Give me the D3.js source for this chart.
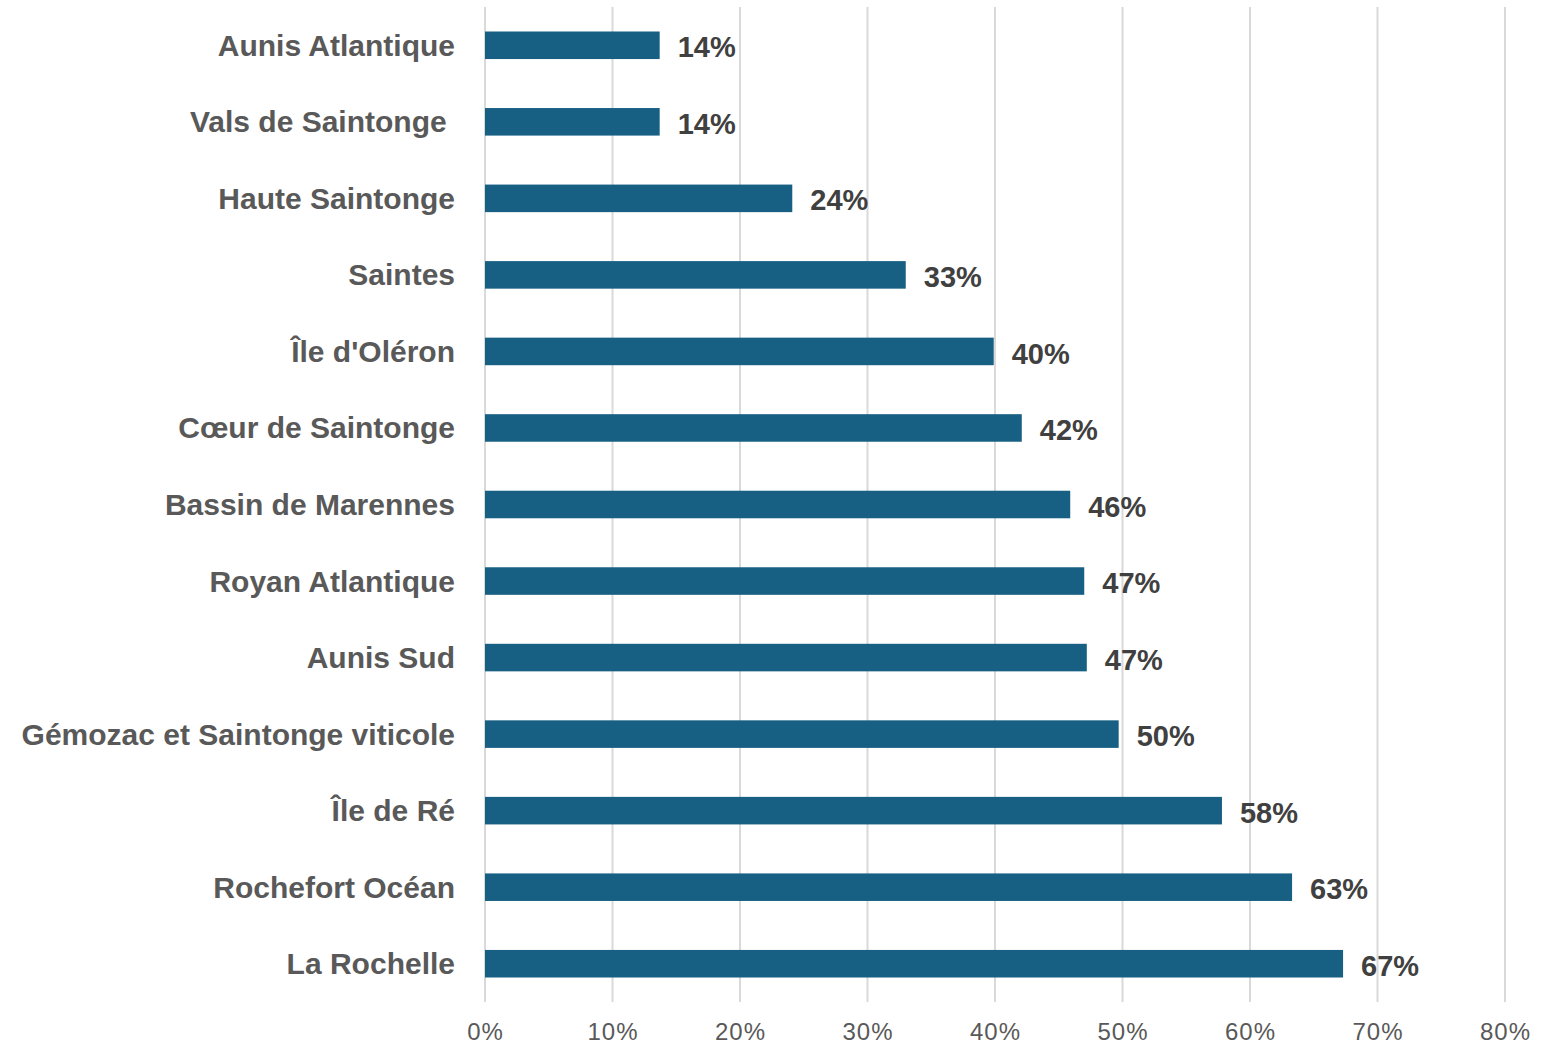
<!DOCTYPE html>
<html>
<head>
<meta charset="utf-8">
<script src="https://cdn.jsdelivr.net/npm/d3@7"></script>
<style>
  body { margin: 0; background: #fff; }
</style>
</head>
<body>
<div id="chart"></div>
<script>
var categories = ["Aunis Atlantique", "Vals de Saintonge ", "Haute Saintonge", "Saintes",
  "Île d'Oléron", "Cœur de Saintonge", "Bassin de Marennes", "Royan Atlantique",
  "Aunis Sud", "Gémozac et Saintonge viticole", "Île de Ré", "Rochefort Océan", "La Rochelle"];
var values = [0.137, 0.137, 0.241, 0.330, 0.399, 0.421, 0.459, 0.470,
  0.472, 0.497, 0.578, 0.633, 0.673];
var valueLabels = ["14%", "14%", "24%", "33%", "40%", "42%", "46%", "47%",
  "47%", "50%", "58%", "63%", "67%"];
var tickValues = [0, 0.1, 0.2, 0.3, 0.4, 0.5, 0.6, 0.7, 0.8];

var margin = {top: 7, right: 52, bottom: 44, left: 485},
    width = 1557 - margin.left - margin.right,
    height = 1046 - margin.top - margin.bottom;

var svg = d3.select("#chart")
  .append("svg")
    .attr("width", 1557)
    .attr("height", 1046)
  .append("g")
    .attr("transform", "translate(" + margin.left + "," + margin.top + ")");

var x = d3.scaleLinear()
  .domain([0, 0.8])
  .range([0, width]);

var y = d3.scaleBand()
  .domain(categories)
  .range([0, height])
  .paddingInner(0.64)
  .paddingOuter(0.32);

// gridlines
svg.selectAll("line.grid")
  .data(tickValues)
  .enter()
  .append("line")
    .attr("class", "grid")
    .attr("x1", function(d) { return x(d); })
    .attr("x2", function(d) { return x(d); })
    .attr("y1", 0)
    .attr("y2", height)
    .attr("stroke", "#d9d9d9")
    .attr("stroke-width", 2);

var xAxis = svg.append("g")
  .attr("transform", "translate(0," + height + ")")
  .call(d3.axisBottom(x).tickValues(tickValues).tickFormat(d3.format(".0%")).tickSize(0).tickPadding(21));
xAxis.select(".domain").remove();
xAxis.selectAll("text")
  .attr("fill", "#595959")
  .style("font-family", "'Liberation Sans', Arial, sans-serif")
  .style("font-size", "24px")
  .style("letter-spacing", "1px");

var yAxis = svg.append("g")
  .call(d3.axisLeft(y).tickSize(0).tickPadding(30));
yAxis.select(".domain").remove();
yAxis.selectAll("text")
  .attr("fill", "#595959")
  .attr("dy", "0.35em")
  .style("white-space", "pre")
  .style("font-family", "'Liberation Sans', Arial, sans-serif")
  .style("font-weight", "bold")
  .style("font-size", "30px");

svg.selectAll("rect.bar")
  .data(values)
  .enter()
  .append("rect")
    .attr("class", "bar")
    .attr("x", 0)
    .attr("y", function(d, i) { return y(categories[i]); })
    .attr("width", function(d) { return x(d); })
    .attr("height", y.bandwidth())
    .attr("fill", "#176083");

svg.selectAll("text.val")
  .data(values)
  .enter()
  .append("text")
    .attr("class", "val")
    .attr("x", function(d) { return x(d) + 18; })
    .attr("y", function(d, i) { return y(categories[i]) + y.bandwidth() / 2 + 2; })
    .attr("dy", "0.35em")
    .attr("fill", "#404040")
    .style("font-family", "'Liberation Sans', Arial, sans-serif")
    .style("font-weight", "bold")
    .style("font-size", "29px")
    .text(function(d, i) { return valueLabels[i]; });
</script>
</body>
</html>
